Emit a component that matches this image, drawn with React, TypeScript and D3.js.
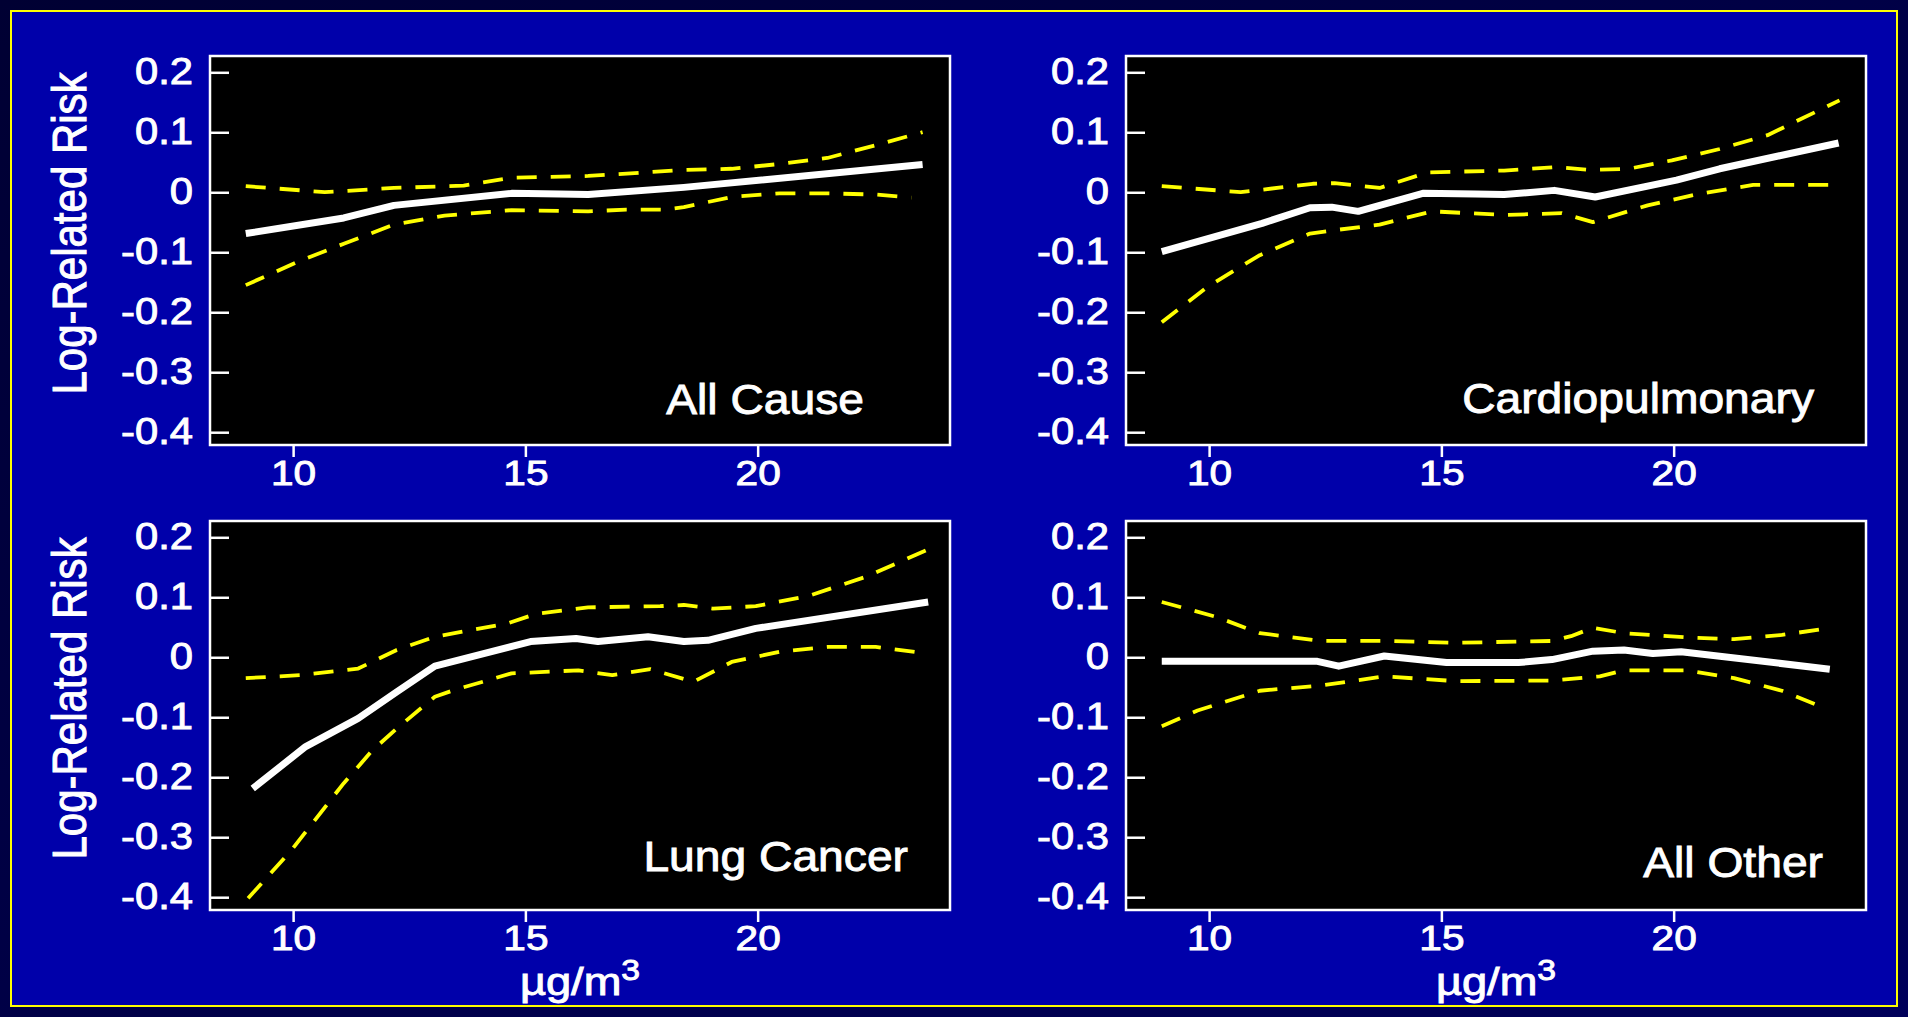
import React from "react";
import * as d3 from "d3";

// ---------- data ----------
const yTicks = [0.2, 0.1, 0, -0.1, -0.2, -0.3, -0.4];
const yTickLabels = ["0.2", "0.1", "0", "-0.1", "-0.2", "-0.3", "-0.4"];
const xTicks = [10, 15, 20];
const xTickLabels = ["10", "15", "20"];

const allCauseFit: [number, number][] = [
  [8.97, -0.068], [11.08, -0.042], [12.16, -0.021], [14.69, -0.001], [15.72, -0.002],
  [16.34, -0.003], [18.4, 0.009], [23.54, 0.047],
];
const allCauseUpper: [number, number][] = [
  [8.97, 0.011], [10.67, 0.001], [12.16, 0.008], [13.66, 0.012], [14.69, 0.025], [16.34, 0.028],
  [18.4, 0.038], [19.43, 0.04], [20.46, 0.048], [21.49, 0.058], [22.52, 0.079], [23.54, 0.101],
];
const allCauseLower: [number, number][] = [
  [8.97, -0.154], [10.15, -0.113], [11.08, -0.085], [12.16, -0.053], [13.25, -0.038], [14.69, -0.029],
  [16.34, -0.031], [17.16, -0.028], [17.99, -0.028], [18.4, -0.024], [19.43, -0.007], [20.46, -0.001],
  [21.49, -0.001], [22.53, -0.003], [23.3, -0.008],
];

const cardioFit: [number, number][] = [
  [8.97, -0.098], [11.13, -0.051], [12.16, -0.025], [12.63, -0.024], [13.2, -0.031], [14.59, -0.001],
  [15.72, -0.002], [16.34, -0.003], [17.42, 0.004], [18.3, -0.007], [20.05, 0.021], [20.98, 0.04],
  [23.54, 0.083],
];
const cardioUpper: [number, number][] = [
  [8.97, 0.011], [10.67, 0.001], [12.22, 0.015], [12.69, 0.016], [13.66, 0.008], [14.69, 0.034],
  [16.34, 0.037], [17.47, 0.043], [18.2, 0.038], [19.02, 0.04], [19.95, 0.054], [20.98, 0.073],
  [22.01, 0.096], [23.56, 0.154],
];
const cardioLower: [number, number][] = [
  [8.97, -0.216], [9.95, -0.157], [11.08, -0.104], [12.16, -0.068], [12.73, -0.062], [13.66, -0.053],
  [14.79, -0.031], [16.34, -0.037], [17.58, -0.034], [18.25, -0.049], [19.43, -0.021], [20.46, -0.003],
  [21.7, 0.013], [23.45, 0.013],
];

const lungFit: [number, number][] = [
  [9.12, -0.218], [10.26, -0.148], [11.39, -0.101], [12.22, -0.057], [13.04, -0.014], [15.1, 0.027],
  [16.08, 0.032], [16.55, 0.027], [17.63, 0.035], [18.4, 0.027], [18.92, 0.029], [19.95, 0.049],
  [23.66, 0.093],
];
const lungUpper: [number, number][] = [
  [8.97, -0.034], [10.15, -0.029], [11.39, -0.018], [12.22, 0.013], [13.04, 0.035], [14.59, 0.057],
  [15.21, 0.073], [16.34, 0.084], [17.89, 0.086], [18.4, 0.088], [19.02, 0.082], [19.95, 0.086],
  [21.08, 0.103], [22.32, 0.135], [23.61, 0.179],
];
const lungLower: [number, number][] = [
  [9.02, -0.401], [9.95, -0.321], [11.08, -0.209], [11.7, -0.154], [12.22, -0.118], [13.04, -0.065],
  [13.45, -0.054], [14.69, -0.026], [16.13, -0.021], [16.86, -0.029], [17.68, -0.019], [18.61, -0.04],
  [19.43, -0.007], [20.46, 0.01], [21.49, 0.018], [22.53, 0.018], [23.66, 0.007],
];

const otherFit: [number, number][] = [
  [8.97, -0.006], [12.32, -0.006], [12.78, -0.014], [13.76, 0.003], [15.1, -0.008], [16.65, -0.008],
  [17.37, -0.003], [18.25, 0.011], [18.92, 0.013], [19.54, 0.007], [20.15, 0.01], [23.35, -0.019],
];
const otherUpper: [number, number][] = [
  [8.97, 0.093], [10.15, 0.068], [11.08, 0.041], [12.42, 0.028], [13.76, 0.028], [15.31, 0.025],
  [17.37, 0.028], [17.78, 0.036], [18.25, 0.05], [18.92, 0.041], [20.26, 0.034], [21.29, 0.031],
  [22.32, 0.038], [23.4, 0.05],
];
const otherLower: [number, number][] = [
  [8.97, -0.114], [9.74, -0.088], [11.08, -0.055], [12.42, -0.046], [13.76, -0.031], [15.31, -0.039],
  [17.37, -0.038], [18.4, -0.031], [18.92, -0.021], [20.26, -0.021], [21.29, -0.034], [22.32, -0.055],
  [23.3, -0.086],
];

const panelTitles = ["All Cause", "Cardiopulmonary", "Lung Cancer", "All Other"];
const yAxisTitle = "Log-Related Risk";
const xAxisTitle = "µg/m";
const xAxisTitleSup = "3";

// ---------- layout ----------
const W = 1908;
const H = 1017;
const PW = 740;
const PH = 389;
const X_DOMAIN: [number, number] = [8.2, 24.13];
const Y_DOMAIN: [number, number] = [-0.4205, 0.228];
const STRETCH = 1.16;

const layout = [
  { left: 210, top: 56, fit: allCauseFit, upper: allCauseUpper, lower: allCauseLower, titleRight: 864, titleBase: 414, yTitle: true, xTitle: false },
  { left: 1126, top: 56, fit: cardioFit, upper: cardioUpper, lower: cardioLower, titleRight: 1814, titleBase: 413, yTitle: false, xTitle: false },
  { left: 210, top: 521, fit: lungFit, upper: lungUpper, lower: lungLower, titleRight: 908, titleBase: 871, yTitle: true, xTitle: true },
  { left: 1126, top: 521, fit: otherFit, upper: otherUpper, lower: otherLower, titleRight: 1823, titleBase: 877, yTitle: false, xTitle: true },
];

const FONT = "'Liberation Sans', Arial, Helvetica, sans-serif";
const TEXT_STROKE = 0.9;

function Panel({ p, title }: { p: (typeof layout)[number]; title: string }) {
  const x = d3.scaleLinear().domain(X_DOMAIN).range([p.left, p.left + PW]);
  const y = d3.scaleLinear().domain(Y_DOMAIN).range([p.top + PH, p.top]);
  const line = d3
    .line<[number, number]>()
    .x((d) => x(d[0]))
    .y((d) => y(d[1]));
  const bottom = p.top + PH;
  const textProps = {
    fill: "#FFFFFF",
    stroke: "#FFFFFF",
    strokeWidth: TEXT_STROKE,
    fontFamily: FONT,
  };
  return (
    <g>
      <rect x={p.left} y={p.top} width={PW} height={PH} fill="#000000" />
      {/* confidence bands */}
      {[p.upper, p.lower].map((s, i) => (
        <path
          key={i}
          d={line(s) || ""}
          fill="none"
          stroke="#FFFF00"
          strokeWidth={3.8}
          strokeDasharray="20,14"
          strokeLinejoin="round"
        />
      ))}
      <path d={line(p.fit) || ""} fill="none" stroke="#FFFFFF" strokeWidth={7} strokeLinejoin="round" />
      {/* frame */}
      <rect x={p.left} y={p.top} width={PW} height={PH} fill="none" stroke="#FFFFFF" strokeWidth={2.5} />
      {/* y ticks (inward) */}
      {yTicks.map((t, i) => (
        <g key={"y" + i}>
          <line x1={p.left} x2={p.left + 19} y1={y(t)} y2={y(t)} stroke="#FFFFFF" strokeWidth={2.5} />
          <text
            transform={`translate(${p.left - 17},${y(t) + 11}) scale(${STRETCH},1)`}
            textAnchor="end"
            fontSize={36}
            {...textProps}
          >
            {yTickLabels[i]}
          </text>
        </g>
      ))}
      {/* x ticks (outward) */}
      {xTicks.map((t, i) => (
        <g key={"x" + i}>
          <line x1={x(t)} x2={x(t)} y1={bottom} y2={bottom + 12} stroke="#FFFFFF" strokeWidth={2.5} />
          <text
            transform={`translate(${x(t)},${bottom + 40}) scale(${STRETCH},1)`}
            textAnchor="middle"
            fontSize={35}
            {...textProps}
          >
            {xTickLabels[i]}
          </text>
        </g>
      ))}
      <text
        transform={`translate(${p.titleRight},${p.titleBase}) scale(1.075,1)`}
        textAnchor="end"
        fontSize={43}
        {...textProps}
      >
        {title}
      </text>
      {p.yTitle && (
        <text
          transform={`translate(86,${p.top + PH / 2 - 17}) scale(${STRETCH},1) rotate(-90)`}
          textAnchor="middle"
          fontSize={42}
          {...textProps}
        >
          {yAxisTitle}
        </text>
      )}
      {p.xTitle && (
        <text
          transform={`translate(${p.left + PW / 2},${bottom + 85}) scale(${STRETCH},1)`}
          textAnchor="middle"
          fontSize={39}
          {...textProps}
        >
          {xAxisTitle}
          <tspan dy={-15} fontSize={29}>
            {xAxisTitleSup}
          </tspan>
        </text>
      )}
    </g>
  );
}

export default function App() {
  return (
    <svg
      width={W}
      height={H}
      viewBox={`0 0 ${W} ${H}`}
      style={{ position: "absolute", left: 0, top: 0, display: "block" }}
    >
      <defs>
        <linearGradient id="outerBg" x1="0" y1="0" x2="1" y2="1">
          <stop offset="0" stopColor="#000033" />
          <stop offset="1" stopColor="#00005A" />
        </linearGradient>
      </defs>
      <rect x={0} y={0} width={W} height={H} fill="url(#outerBg)" />
      <rect x={11} y={11} width={W - 22} height={H - 22} fill="#0000AA" stroke="#FFFF00" strokeWidth={2} />
      {layout.map((p, i) => (
        <Panel key={i} p={p} title={panelTitles[i]} />
      ))}
    </svg>
  );
}
